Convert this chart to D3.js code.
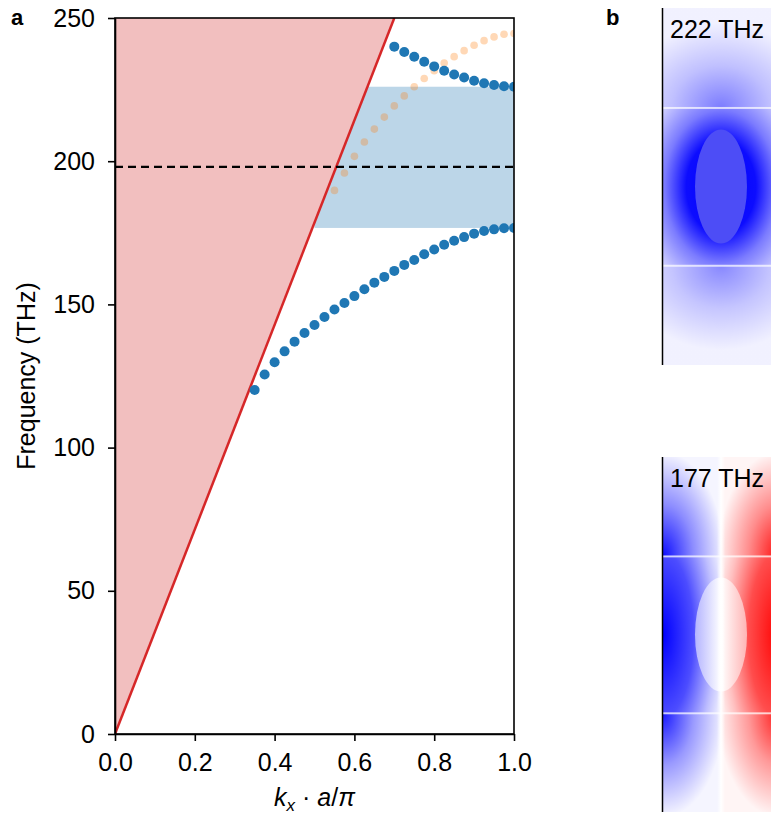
<!DOCTYPE html>
<html>
<head>
<meta charset="utf-8">
<script src="https://cdn.jsdelivr.net/npm/d3@7"></script>
<style>
    body { margin: 0; background: #fff; }
    svg text { font-family: "Liberation Sans", Arial, Helvetica, sans-serif; }
</style>
</head>
<body>
<svg id="fig" width="771" height="815"></svg>
<script>
// guided band (lower, below the gap)
const kLower = [0.35, 0.375, 0.4, 0.425, 0.45, 0.475, 0.5, 0.525, 0.55, 0.575, 0.6, 0.625, 0.65, 0.675,
    0.7, 0.725, 0.75, 0.775, 0.8, 0.825, 0.85, 0.875, 0.9, 0.925, 0.95, 0.975, 1.0];
const fLower = [120.1, 125.5, 129.8, 133.6, 137.0, 140.0, 142.8, 145.6, 148.2, 150.5, 152.9, 155.3, 157.6, 159.6,
    161.7, 163.8, 165.5, 167.5, 169.2, 170.8, 172.2, 173.5, 174.7, 175.6, 176.2, 176.6, 176.7];

// guided band above the gap
const kUpper = [0.7, 0.725, 0.75, 0.775, 0.8, 0.825, 0.85, 0.875, 0.9, 0.925, 0.95, 0.975, 1.0];
const fUpper = [240.0, 238.1, 236.5, 234.7, 233.1, 231.6, 230.3, 229.2, 228.1, 227.2, 226.6, 226.2, 226.0];

// odd-symmetry band (faint)
const kOdd = [0.55, 0.575, 0.6, 0.625, 0.65, 0.675, 0.7, 0.725, 0.75, 0.775, 0.8, 0.825, 0.85, 0.875,
    0.9, 0.925, 0.95, 0.975, 1.0];
const fOdd = [189.8, 195.9, 201.7, 206.7, 211.2, 215.4, 219.3, 222.8, 226.0, 228.9, 231.6, 234.3, 236.5, 238.6,
    240.5, 242.1, 243.4, 244.3, 244.6];

// light line and band gap
const lightK = [0, 0.7];
const lightF = [0, 250];
const gapK = [0.5, 1.0];
const gapF = [176.7, 226.0];
const designF = 198;

const xTicks = [0, 0.2, 0.4, 0.6, 0.8, 1.0];
const yTicks = [0, 50, 100, 150, 200, 250];

// mode profiles shown in panel b
const modeLabels = ['222 THz', '177 THz'];
const modeParity = ['even', 'odd'];

const svg = d3.select('#fig');
const defs = svg.append('defs');

// ---------------- panel a ----------------
const margin = { top: 18, left: 115 };
const width = 399, height = 716;

const xScale = d3.scaleLinear().domain([0, 1]).range([0, width]);
const yScale = d3.scaleLinear().domain([0, 250]).range([height, 0]);

const chart = svg.append('g')
    .attr('transform', `translate(${margin.left},${margin.top})`);

defs.append('clipPath').attr('id', 'plotClip')
    .append('rect').attr('width', width).attr('height', height);

const plot = chart.append('g').attr('clip-path', 'url(#plotClip)');

// band gap region
plot.append('rect')
    .attr('x', xScale(gapK[0]))
    .attr('y', yScale(gapF[1]))
    .attr('width', xScale(gapK[1]) - xScale(gapK[0]))
    .attr('height', yScale(gapF[0]) - yScale(gapF[1]))
    .attr('fill', '#bcd6e8');

// light cone
const conePts = [[lightK[0], lightF[0]], [lightK[1], lightF[1]], [0, lightF[1]]];
plot.append('path')
    .attr('d', d3.line().x(d => xScale(d[0])).y(d => yScale(d[1]))(conePts) + 'Z')
    .attr('fill', '#f2bfbf');

plot.append('line')
    .attr('x1', xScale(lightK[0])).attr('y1', yScale(lightF[0]))
    .attr('x2', xScale(lightK[1])).attr('y2', yScale(lightF[1]))
    .attr('stroke', '#d62728')
    .attr('stroke-width', 2.5);

plot.append('line')
    .attr('x1', 0).attr('x2', width)
    .attr('y1', yScale(designF)).attr('y2', yScale(designF))
    .attr('stroke', '#000')
    .attr('stroke-width', 2.3)
    .attr('stroke-dasharray', '8,5');

plot.selectAll('.odd')
    .data(kOdd.map((k, i) => [k, fOdd[i]]))
    .join('circle')
    .attr('class', 'odd')
    .attr('cx', d => xScale(d[0]))
    .attr('cy', d => yScale(d[1]))
    .attr('r', 3.8)
    .attr('fill', '#ff7f0e')
    .attr('fill-opacity', 0.3);

const guided = kLower.map((k, i) => [k, fLower[i]]).concat(kUpper.map((k, i) => [k, fUpper[i]]));
plot.selectAll('.guided')
    .data(guided)
    .join('circle')
    .attr('class', 'guided')
    .attr('cx', d => xScale(d[0]))
    .attr('cy', d => yScale(d[1]))
    .attr('r', 5)
    .attr('fill', '#1f77b4');

// axes
const xAxis = d3.axisBottom(xScale).tickValues(xTicks).tickFormat(d3.format('.1f'))
    .tickSize(7).tickSizeOuter(0).tickPadding(12);
const yAxis = d3.axisLeft(yScale).tickValues(yTicks).tickFormat(d3.format('d'))
    .tickSize(7).tickSizeOuter(0).tickPadding(13);

const xAxisG = chart.append('g').attr('transform', `translate(0,${height})`).call(xAxis);
const yAxisG = chart.append('g').call(yAxis);
[xAxisG, yAxisG].forEach(g => {
    g.selectAll('text').attr('font-size', 25).attr('fill', '#000')
        .attr('font-family', '"Liberation Sans", Arial, sans-serif');
    g.selectAll('line').attr('stroke-width', 1.6);
    g.select('.domain').attr('stroke-width', 1.6);
});

chart.append('rect')
    .attr('width', width).attr('height', height)
    .attr('fill', 'none').attr('stroke', '#000').attr('stroke-width', 1.6);

// axis labels
svg.append('text')
    .attr('transform', `translate(35,${margin.top + height / 2}) rotate(-90)`)
    .attr('text-anchor', 'middle')
    .attr('font-size', 25)
    .text('Frequency (THz)');

const xLab = svg.append('text')
    .attr('x', margin.left + width / 2)
    .attr('y', 806)
    .attr('text-anchor', 'middle')
    .attr('font-size', 25)
    .attr('font-family', '"DejaVu Sans", sans-serif');
xLab.append('tspan').attr('font-style', 'italic').text('k');
xLab.append('tspan').attr('font-style', 'italic').attr('font-size', 17).attr('dy', 5).text('x');
xLab.append('tspan').attr('dy', -5).text(' · ');
xLab.append('tspan').attr('font-style', 'italic').text('a');
xLab.append('tspan').text('/');
xLab.append('tspan').attr('font-style', 'italic').text('π');

svg.append('text').attr('x', 11).attr('y', 25)
    .attr('font-size', 22).attr('font-weight', 'bold').text('a');
svg.append('text').attr('x', 606).attr('y', 25)
    .attr('font-size', 22).attr('font-weight', 'bold').text('b');

// ---------------- panel b ----------------
function radial(id, color, cx, cy, r, stops) {
    const g = defs.append('radialGradient').attr('id', id)
        .attr('cx', cx).attr('cy', cy).attr('r', r).attr('fx', cx).attr('fy', cy);
    stops.forEach(s => g.append('stop').attr('offset', s[0])
        .attr('stop-color', color).attr('stop-opacity', s[1]));
}

// even mode (blue)
radial('evTop', '#0000ff', 0.5, 1, 0.85, [[0, 0.5], [0.5, 0.22], [1, 0.02]]);
radial('evMid', '#0000ff', 0.5, 0.5, 0.75, [[0, 1], [0.4, 0.95], [0.65, 0.5], [1, 0.08]]);
radial('evBot', '#0000ff', 0.5, 0, 0.85, [[0, 0.45], [0.5, 0.2], [1, 0.02]]);
// odd mode (blue left, red right)
['b', 'r'].forEach(c => {
    const col = c === 'b' ? '#0000ff' : '#ff0000';
    const cx = c === 'b' ? 0 : 1;
    radial(`odTop${c}`, col, cx, 1, 1.05, [[0, 0.95], [0.5, 0.45], [1, 0.04]]);
    radial(`odMid${c}`, col, cx, 0.5, 1.05, [[0, 1], [0.5, 0.7], [0.85, 0.25], [1, 0.1]]);
    radial(`odBot${c}`, col, cx, 0, 1.05, [[0, 0.9], [0.5, 0.4], [1, 0.04]]);
});

const holeGrad = defs.append('linearGradient').attr('id', 'oddHole');
[[0, '#b4b4ff'], [0.5, '#ffffff'], [1, '#ffb4b4']].forEach(s =>
    holeGrad.append('stop').attr('offset', s[0]).attr('stop-color', s[1]));
const nodeGrad = defs.append('linearGradient').attr('id', 'node');
[[0, 0], [0.5, 1], [1, 0]].forEach(s =>
    nodeGrad.append('stop').attr('offset', s[0]).attr('stop-color', '#fff').attr('stop-opacity', s[1]));

const imgX = 663, imgW = 116;
const panels = [{ y0: 8, h: 357 }, { y0: 457, h: 355 }];
const cut1 = 0.28, cut2 = 0.722;

panels.forEach((p, i) => {
    const g = svg.append('g');
    const yA = p.y0, yB = p.y0 + p.h * cut1, yC = p.y0 + p.h * cut2, yD = p.y0 + p.h;
    const cx = imgX + imgW / 2, cy = p.y0 + p.h / 2;

    g.append('rect').attr('x', imgX).attr('y', yA).attr('width', imgW).attr('height', p.h)
        .attr('fill', '#f6f6ff');

    if (modeParity[i] === 'even') {
        [['evTop', yA, yB], ['evMid', yB, yC], ['evBot', yC, yD]].forEach(s =>
            g.append('rect').attr('x', imgX).attr('y', s[1]).attr('width', imgW).attr('height', s[2] - s[1])
                .attr('fill', `url(#${s[0]})`));
        g.append('ellipse').attr('cx', cx).attr('cy', cy).attr('rx', 26).attr('ry', 57)
            .attr('fill', '#4d4df6');
    } else {
        g.select('rect').attr('fill', '#fff');
        [['odTop', yA, yB], ['odMid', yB, yC], ['odBot', yC, yD]].forEach(s => {
            g.append('rect').attr('x', imgX).attr('y', s[1]).attr('width', imgW / 2).attr('height', s[2] - s[1])
                .attr('fill', `url(#${s[0]}b)`);
            g.append('rect').attr('x', cx).attr('y', s[1]).attr('width', imgW / 2).attr('height', s[2] - s[1])
                .attr('fill', `url(#${s[0]}r)`);
        });
        g.append('ellipse').attr('cx', cx).attr('cy', cy).attr('rx', 26).attr('ry', 57)
            .attr('fill', 'url(#oddHole)');
        g.append('rect').attr('x', cx - 4).attr('y', yA).attr('width', 8).attr('height', p.h)
            .attr('fill', 'url(#node)');
    }

    [yB, yC].forEach(y => g.append('rect').attr('x', imgX).attr('y', y - 1).attr('width', imgW).attr('height', 2)
        .attr('fill', '#fff').attr('fill-opacity', 0.7));

    g.append('line').attr('x1', imgX - 0.5).attr('x2', imgX - 0.5).attr('y1', yA).attr('y2', yD)
        .attr('stroke', '#000').attr('stroke-width', 1.5);

    g.append('text').attr('x', 670).attr('y', p.y0 + 30)
        .attr('font-size', 25).attr('fill', '#000').text(modeLabels[i]);
});
</script>
</body>
</html>
